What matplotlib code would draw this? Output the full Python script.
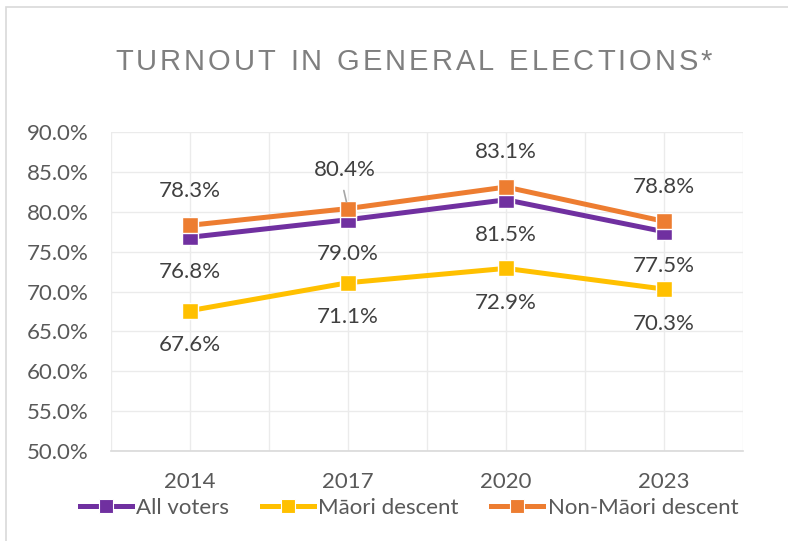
import matplotlib
matplotlib.use("Agg")
from matplotlib import pyplot as plt
from matplotlib.lines import Line2D
from matplotlib.patches import Rectangle

years = ["2014", "2017", "2020", "2023"]
all_voters = [76.8, 79.0, 81.5, 77.5]
maori = [67.6, 71.1, 72.9, 70.3]
non_maori = [78.3, 80.4, 83.1, 78.8]

series_names = ["All voters", "Māori descent", "Non-Māori descent"]
colors = ["#7030A0", "#FFC000", "#ED7D31"]
label_side = [-1, -1, 1]  # below / below / above

FONT = ["Lato", "DejaVu Sans"]
W, H = 788, 541

fig = plt.figure(figsize=(W / 100, H / 100), dpi=100)
ax = fig.add_axes([111 / W, 90 / H, 632 / W, 319 / H])

# outer chart border
fig.patches.append(Rectangle((6 / W, -0.01), 1.0, 1 - 7 / H + 0.01,
                             transform=fig.transFigure, fill=False,
                             edgecolor="#D9D9D9", linewidth=1.2))

x = list(range(len(years)))
for vals, name, col, side in zip([all_voters, maori, non_maori], series_names, colors, label_side):
    ax.plot(x, vals, color=col, linewidth=3.6, marker="s", markersize=11,
            markeredgecolor="white", markeredgewidth=1.0, label=name, zorder=3)
    for xi, v in zip(x, vals):
        dx = -2 if (name == "Non-Māori descent" and xi == 1) else 0
        dy = side * 25
        if name == "Non-Māori descent" and xi == 1:
            dy = 28
        ax.annotate(f"{v:.1f}%", (xi, v), xytext=(dx, dy),
                    textcoords="offset points", ha="center", va="center",
                    fontsize=16, color="#404040", family=FONT)

# leader line for 80.4%
ax.annotate("", xy=(1, non_maori[1]), xytext=(-3, 13), textcoords="offset points",
            xycoords="data",
            arrowprops=dict(arrowstyle="-", color="#A6A6A6", lw=1.2, shrinkA=0, shrinkB=5))

ax.set_ylim(50, 90)
ax.set_xlim(-0.5, 3.5)
ax.set_yticks(range(50, 91, 5))
ax.set_yticklabels([f"{v:.1f}%" for v in range(50, 91, 5)])
ax.set_xticks(x)
ax.set_xticklabels(years)
ax.set_xticks([-0.5, 0.5, 1.5, 2.5, 3.5], minor=True)
ax.grid(True, which="both", color="#EBEBEB", linewidth=1.0, zorder=0)
ax.set_axisbelow(True)
ax.tick_params(axis="both", which="both", length=0, labelsize=16, labelcolor="#595959")
ax.tick_params(axis="x", pad=15)
ax.tick_params(axis="y", pad=16)
for lab in ax.get_xticklabels() + ax.get_yticklabels():
    lab.set_family(FONT)
for s in ["top", "right", "left"]:
    ax.spines[s].set_visible(False)
ax.spines["bottom"].set_color("#D9D9D9")
ax.spines["bottom"].set_linewidth(1.2)

# title with letter spacing: place each character
title = "TURNOUT IN GENERAL ELECTIONS*"
left_px, right_px, title_y = 115, 712, 1 - 62 / H
renderer = fig.canvas.get_renderer()
chars = []
for ch in title:
    t = fig.text(0, title_y, ch, ha="left", va="center", fontsize=21,
                 color="#7F7F7F", family=["Liberation Sans", "DejaVu Sans"])
    w = t.get_window_extent(renderer).width if ch != " " else 0
    chars.append((t, ch, w))
space_w = 9
total = sum(w for _, _, w in chars)
n_gaps = len(chars) - 1
gap = (right_px - left_px - total - space_w * title.count(" ")) / n_gaps
pos = left_px
for t, ch, w in chars:
    t.set_x(pos / W)
    pos += w + gap + (space_w if ch == " " else 0)

handles = [Line2D([], [], color=c, linewidth=3.6, marker="s", markersize=10,
                  markeredgecolor="white", markeredgewidth=0.8) for c in colors]
leg = fig.legend(handles, series_names, loc="center", bbox_to_anchor=(409 / W, 1 - 508 / H),
                 ncol=3, frameon=False, handlelength=2.35, handletextpad=0.2, columnspacing=1.45,
                 prop={"family": FONT, "size": 16})
for t in leg.get_texts():
    t.set_color("#595959")

fig.savefig("out.png", dpi=100)
